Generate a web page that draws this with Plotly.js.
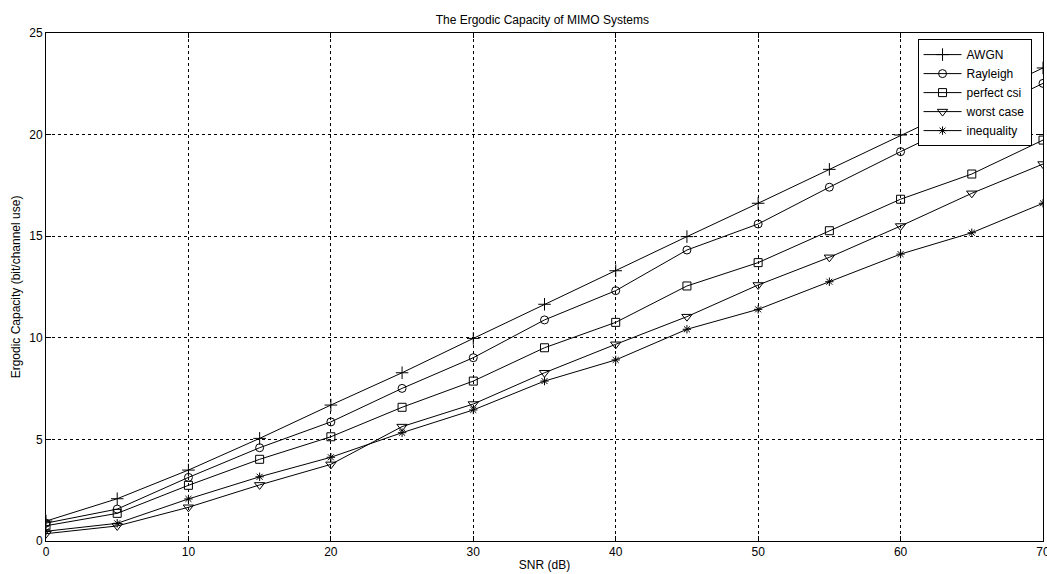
<!DOCTYPE html>
<html>
<head>
<meta charset="utf-8">
<script src="https://cdn.plot.ly/plotly-3.0.1.min.js"></script>
<style>html,body{margin:0;padding:0;background:#fff;}#chart{width:1047px;height:574px;}</style>
</head>
<body>
<div id="chart"></div>
<script>
const snr = [0, 5, 10, 15, 20, 25, 30, 35, 40, 45, 50, 55, 60, 65, 70];
const awgn = [0.98, 2.08, 3.49, 5.05, 6.69, 8.28, 9.97, 11.65, 13.3, 14.98, 16.62, 18.29, 19.98, 21.62, 23.28];
const rayleigh = [0.88, 1.57, 3.13, 4.59, 5.86, 7.51, 9.02, 10.88, 12.32, 14.32, 15.6, 17.41, 19.16, 20.85, 22.52];
const perfectCsi = [0.75, 1.36, 2.74, 4.02, 5.13, 6.58, 7.87, 9.51, 10.76, 12.55, 13.7, 15.27, 16.82, 18.06, 19.73];
const worstCase = [0.36, 0.74, 1.66, 2.76, 3.77, 5.63, 6.74, 8.28, 9.68, 11.04, 12.6, 13.96, 15.5, 17.11, 18.55];
const inequality = [0.48, 0.87, 2.07, 3.16, 4.12, 5.33, 6.45, 7.87, 8.91, 10.42, 11.4, 12.76, 14.12, 15.17, 16.62];
const seriesNames = ["AWGN", "Rayleigh", "perfect csi", "worst case", "inequality"];

const seriesData = [awgn, rayleigh, perfectCsi, worstCase, inequality];
const symbols = ["cross-thin-open", "circle-open", "square-open", "triangle-down-open", "asterisk-open"];
const sizes = [9, 8, 8, 9, 7];

const traces = seriesData.map((ys, i) => ({
  x: snr, y: ys, name: seriesNames[i], type: "scatter", mode: "lines+markers",
  line: {color: "#000", width: 1},
  marker: {symbol: symbols[i], size: sizes[i], color: "#000", line: {color: "#000", width: 1}}
}));

const fnt = "Liberation Sans, Arial, Helvetica, sans-serif";
const layout = {
  width: 1047, height: 574,
  margin: {l: 46, r: 4, t: 33, b: 33},
  paper_bgcolor: "#fff", plot_bgcolor: "#fff",
  font: {family: fnt, size: 12, color: "#000"},
  title: {text: "The Ergodic Capacity of MIMO Systems", font: {size: 12, family: fnt, color: "#000"}, x: 0.518, xanchor: "center", y: 0.965, yanchor: "middle"},
  xaxis: {
    range: [0, 70], dtick: 10, tick0: 0,
    showline: true, linecolor: "#000", linewidth: 1, mirror: "ticks",
    ticks: "inside", ticklen: 5, tickcolor: "#000",
    showgrid: true, gridcolor: "#000", gridwidth: 1, griddash: "3px,3px",
    zeroline: false, ticklabeloverflow: "allow",
    tickfont: {size: 12, family: fnt},
    title: {text: "SNR (dB)", font: {size: 12, family: fnt}, standoff: 2}
  },
  yaxis: {
    range: [0, 25], dtick: 5, tick0: 0,
    showline: true, linecolor: "#000", linewidth: 1, mirror: "ticks",
    ticks: "inside", ticklen: 5, tickcolor: "#000",
    showgrid: true, gridcolor: "#000", gridwidth: 1, griddash: "3px,3px",
    zeroline: false, ticklabeloverflow: "allow",
    tickfont: {size: 12, family: fnt},
    title: {text: "Ergodic Capacity (bit/channel use)", font: {size: 12, family: fnt}, standoff: 6}
  },
  legend: {
    x: 0.9885, xanchor: "right", y: 0.988, yanchor: "top",
    bgcolor: "#fff", bordercolor: "#000", borderwidth: 1,
    font: {size: 12, family: fnt}, tracegroupgap: 0, itemwidth: 38
  },
  showlegend: true
};

Plotly.newPlot("chart", traces, layout, {displayModeBar: false, staticPlot: true});
</script>
</body>
</html>
